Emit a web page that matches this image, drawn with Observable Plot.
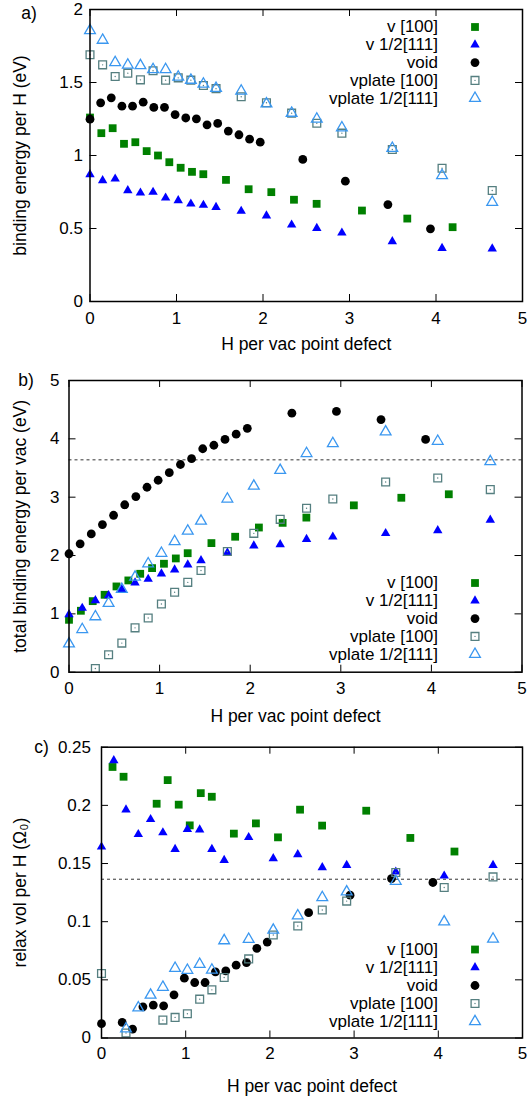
<!DOCTYPE html>
<html><head><meta charset="utf-8">
<script src="https://cdn.jsdelivr.net/npm/d3@7"></script>
<script src="https://cdn.jsdelivr.net/npm/@observablehq/plot@0.6"></script>
<style>
body{margin:0;background:#fff;}
#chart{width:531px;}
#chart svg{display:block;}
</style></head><body><div id="chart"></div>
<script>
// ---------- data ----------
const seriesNames = ["v [100]", "v 1/2[111]", "void", "vplate [100]", "vplate 1/2[111]"];
const xTicks = [0, 1, 2, 3, 4, 5];
const xLabel = "H per vac point defect";

// x positions (H per vac) shared by the panels
const xV100 = [0, 0.131, 0.262, 0.393, 0.524, 0.655, 0.786, 0.917, 1.048, 1.179, 1.31, 1.572, 1.834, 2.096, 2.358, 2.62, 3.144, 3.668, 4.192];
const xV111 = [0, 0.146, 0.291, 0.437, 0.583, 0.729, 0.874, 1.02, 1.166, 1.311, 1.457, 1.748, 2.04, 2.331, 2.622, 2.912, 3.495, 4.07, 4.65];
const xVoid = [0, 0.123, 0.246, 0.369, 0.492, 0.615, 0.738, 0.861, 0.984, 1.107, 1.23, 1.353, 1.476, 1.599, 1.722, 1.845, 1.968, 2.46, 2.952, 3.444, 3.936];
const xVplate = xV111;

// panel a) binding energy per H (eV)
const aTicks = [0, 0.5, 1, 1.5, 2];
const aV100 = [1.26, 1.153, 1.187, 1.08, 1.091, 1.03, 1.0, 0.954, 0.916, 0.888, 0.872, 0.833, 0.769, 0.749, 0.697, 0.669, 0.623, 0.568, 0.509];
const aV111 = [0.87, 0.829, 0.84, 0.76, 0.744, 0.749, 0.71, 0.692, 0.669, 0.66, 0.646, 0.619, 0.587, 0.525, 0.502, 0.47, 0.411, 0.365, 0.361];
const aVoid = [1.249, 1.361, 1.395, 1.338, 1.338, 1.365, 1.329, 1.33, 1.28, 1.257, 1.251, 1.21, 1.22, 1.167, 1.142, 1.112, 1.091, 0.973, 0.824, 0.664, 0.498];
const aVplate100 = [1.69, 1.621, 1.541, 1.564, 1.518, 1.58, 1.516, 1.532, 1.516, 1.479, 1.458, 1.402, 1.361, 1.29, 1.221, 1.153, 1.041, 0.913, 0.76];
const aVplate111 = [1.856, 1.79, 1.637, 1.62, 1.616, 1.589, 1.589, 1.538, 1.516, 1.49, 1.46, 1.442, 1.354, 1.29, 1.25, 1.19, 1.05, 0.863, 0.68];

// panel b) total binding energy per vac (eV)
const bTicks = [0, 1, 2, 3, 4, 5];
const bRef = 3.64;
const bV100 = [0.898, 1.053, 1.218, 1.327, 1.47, 1.573, 1.687, 1.784, 1.859, 1.95, 2.04, 2.213, 2.322, 2.48, 2.56, 2.65, 2.86, 2.99, 3.05];
const bV111 = [0.99, 1.098, 1.23, 1.316, 1.418, 1.533, 1.595, 1.687, 1.756, 1.842, 1.916, 2.048, 2.168, 2.19, 2.28, 2.32, 2.38, 2.43, 2.61];
const bVoid = [2.03, 2.2, 2.37, 2.53, 2.69, 2.87, 3.01, 3.17, 3.29, 3.42, 3.56, 3.66, 3.83, 3.89, 3.99, 4.08, 4.18, 4.44, 4.47, 4.33, 3.99];
const bVplate100 = [null, null, 0.064, 0.299, 0.499, 0.76, 0.93, 1.17, 1.37, 1.54, 1.743, 2.068, 2.38, 2.62, 2.81, 2.97, 3.26, 3.33, 3.13];
const bVplate111 = [0.487, 0.733, 0.952, 1.182, 1.42, 1.63, 1.86, 2.04, 2.24, 2.42, 2.59, 2.97, 3.19, 3.46, 3.75, 3.92, 4.12, 3.96, 3.61];

// panel c) relax vol per H (Omega_0)
const cTicks = [0, 0.05, 0.1, 0.15, 0.2, 0.25];
const cRef = 0.1365;
const cV100 = [null, 0.233, 0.2246, null, null, 0.2014, 0.2217, 0.2006, 0.1828, 0.2105, 0.2074, 0.1757, 0.1845, 0.1725, 0.1963, 0.1826, 0.1954, 0.172, 0.1603];
const cV111 = [0.1643, 0.2386, 0.1963, 0.1751, 0.188, 0.1766, 0.1623, 0.1794, 0.1791, 0.1623, 0.1528, 0.1725, 0.1543, 0.1577, 0.1466, 0.1485, 0.1428, 0.1394, 0.1485];
const cVoid = [0.0123, null, 0.0134, 0.0077, 0.0268, 0.0283, 0.0277, 0.0371, 0.0514, 0.0477, 0.0477, 0.0568, 0.0577, 0.0626, 0.0648, 0.0771, 0.0825, 0.1077, 0.1228, 0.1371, 0.1337];
const cVplate100 = [0.0554, null, 0.0043, null, null, 0.0154, 0.0177, 0.0208, 0.0334, 0.0414, 0.052, 0.068, 0.0885, 0.0963, 0.11, 0.1177, 0.1423, 0.1294, 0.1385];
const cVplate111 = [null, null, 0.008, 0.026, 0.0369, 0.0437, 0.06, 0.0583, 0.0634, 0.0585, 0.0837, 0.0849, 0.0928, 0.1051, 0.1208, 0.1257, 0.1348, 0.0999, 0.0851];

// ---------- styles ----------
const W = 531;
const FONT = "'Liberation Sans', Arial, Helvetica, sans-serif";
const TL = 7; // inward tick length
const FS_TICK = 17, FS_LABEL = 17.5, FS_LEG = 17;
const styles = [
  {symbol: "square", r: 4.4, fill: "#008000", stroke: "none"},
  {symbol: "triangle", r: 3.5, fill: "#0000ff", stroke: "none"},
  {symbol: "circle", r: 4.4, fill: "#000000", stroke: "none"},
  {symbol: "square", r: 4.4, fill: "none", stroke: "#557f80", sw: 1.3, centerDot: true},
  {symbol: "triangle", r: 4.0, fill: "none", stroke: "#3a97f0", sw: 1.3}
];

function panel(cfg) {
  const fh = cfg.height - cfg.mt - cfg.mb;
  const fw = W - cfg.ml - cfg.mr;
  const marks = [];
  if (cfg.ref != null) marks.push(Plot.ruleY([cfg.ref], {stroke: "#333", strokeWidth: 1, strokeDasharray: "3,3"}));
  // inward ticks on all four sides
  marks.push(Plot.tickX(xTicks, {x: d => d, stroke: "#000", insetTop: fh - TL}));
  marks.push(Plot.tickX(xTicks, {x: d => d, stroke: "#000", insetBottom: fh - TL}));
  marks.push(Plot.tickY(cfg.yTicks, {y: d => d, stroke: "#000", insetRight: fw - TL}));
  marks.push(Plot.tickY(cfg.yTicks, {y: d => d, stroke: "#000", insetLeft: fw - TL}));
  marks.push(Plot.axisX(xTicks, {tickSize: 0, tickPadding: cfg.xPad, tickFormat: d => String(d), label: null, fontSize: FS_TICK}));
  marks.push(Plot.axisY(cfg.yTicks, {tickSize: 0, tickPadding: cfg.yPad, tickFormat: d => String(d), label: null, fontSize: FS_TICK}));
  // series
  cfg.series.forEach((s, i) => {
    const st = styles[i];
    const rows = s.x.map((x, j) => ({x, y: s.y[j]})).filter(d => d.y != null);
    marks.push(Plot.dot(rows, {x: "x", y: "y", symbol: st.symbol, r: st.r, fill: st.fill, stroke: st.stroke, strokeWidth: st.sw || 1}));
    if (st.centerDot) marks.push(Plot.dot(rows, {x: "x", y: "y", r: 0.7, fill: st.stroke, stroke: "none"}));
  });
  // legend
  seriesNames.forEach((name, i) => {
    const st = styles[i];
    const dy = cfg.legDy(i);
    marks.push(Plot.text([name], {text: d => d, frameAnchor: cfg.legAnchor, dx: cfg.legTextDx, dy, textAnchor: "end", lineAnchor: "middle", fontSize: FS_LEG, fill: "#000"}));
    marks.push(Plot.dot([name], {frameAnchor: cfg.legAnchor, dx: cfg.legMarkDx, dy, symbol: st.symbol, r: st.r, fill: st.fill, stroke: st.stroke, strokeWidth: st.sw || 1}));
    if (st.centerDot) marks.push(Plot.dot([name], {frameAnchor: cfg.legAnchor, dx: cfg.legMarkDx, dy, r: 0.7, fill: st.stroke, stroke: "none"}));
  });
  // labels
  marks.push(Plot.text([cfg.yLabel], {text: d => d, frameAnchor: "left", dx: 20 - cfg.ml, rotate: -90, textAnchor: "middle", lineAnchor: "middle", fontSize: FS_LABEL, fill: "#000"}));
  marks.push(Plot.text([xLabel], {text: d => d, frameAnchor: "bottom", dy: cfg.xLabDy, textAnchor: "middle", lineAnchor: "middle", fontSize: FS_LABEL, fill: "#000"}));
  marks.push(Plot.text([cfg.tag], {text: d => d, frameAnchor: "top-left", dx: cfg.tagDx, dy: cfg.tagDy, textAnchor: "middle", lineAnchor: "middle", fontSize: FS_LABEL, fill: "#000"}));
  marks.push(Plot.frame({stroke: "#000", strokeWidth: 1.5}));
  return Plot.plot({
    width: W, height: cfg.height,
    marginTop: cfg.mt, marginBottom: cfg.mb, marginLeft: cfg.ml, marginRight: cfg.mr,
    x: {domain: [0, 5]},
    y: {domain: [cfg.yTicks[0], cfg.yTicks[cfg.yTicks.length - 1]]},
    style: {fontFamily: FONT, fontSize: "17px", background: "#fff", color: "#000"},
    marks
  });
}

const chart = document.getElementById("chart");

chart.append(panel({
  height: 362, mt: 9, mb: 61, ml: 89.5, mr: 9,
  yTicks: aTicks, yLabel: "binding energy per H (eV)", tag: "a)", tagDx: -61, tagDy: 3.5,
  xPad: 10, yPad: 7, xLabDy: 42.5,
  legAnchor: "top-right", legTextDx: -84.5, legMarkDx: -47.5, legDy: i => 17.5 + i * 17.8,
  series: [
    {x: xV100, y: aV100}, {x: xV111, y: aV111}, {x: xVoid, y: aVoid},
    {x: xVplate, y: aVplate100}, {x: xVplate, y: aVplate111}
  ]
}));

chart.append(panel({
  height: 370, mt: 18, mb: 60.3, ml: 68.5, mr: 9.5,
  yTicks: bTicks, yLabel: "total binding energy per vac (eV)", tag: "b)", tagDx: -43, tagDy: 0,
  xPad: 10, yPad: 9.5, xLabDy: 44, ref: bRef,
  legAnchor: "bottom-right", legTextDx: -84, legMarkDx: -47, legDy: i => -18 - (4 - i) * 17.8,
  series: [
    {x: xV100, y: bV100}, {x: xV111, y: bV111}, {x: xVoid, y: bVoid},
    {x: xVplate, y: bVplate100}, {x: xVplate, y: bVplate111}
  ]
}));

chart.append(panel({
  height: 365, mt: 14.7, mb: 59.5, ml: 101, mr: 9,
  yTicks: cTicks, yLabel: "relax vol per H (\u03A9\u2080)", tag: "c)", tagDx: -60, tagDy: 0,
  xPad: 9, yPad: 10.5, xLabDy: 48.5, ref: cRef,
  legAnchor: "bottom-right", legTextDx: -84.5, legMarkDx: -47.5, legDy: i => -16.5 - (4 - i) * 18,
  series: [
    {x: xV100, y: cV100}, {x: xV111, y: cV111}, {x: xVoid, y: cVoid},
    {x: xVplate, y: cVplate100}, {x: xVplate, y: cVplate111}
  ]
}));
</script>
</body></html>
